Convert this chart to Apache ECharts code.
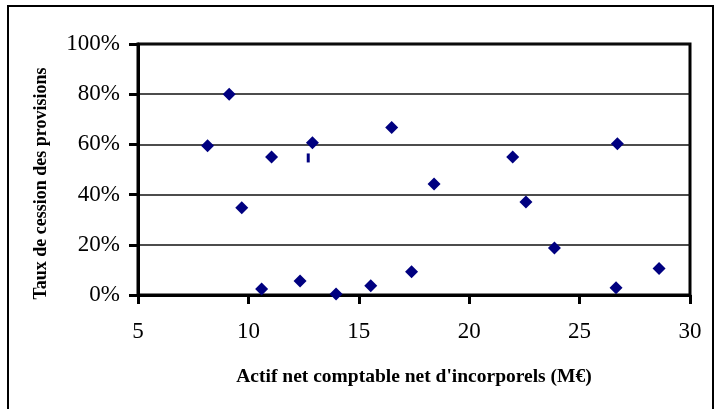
<!DOCTYPE html>
<html><head><meta charset="utf-8">
<script src="https://cdn.jsdelivr.net/npm/echarts@6/dist/echarts.min.js"></script>
<style>html,body{margin:0;padding:0;background:#fff}#c{width:714px;height:409px}</style>
</head><body><div id="c"></div>
<script>
var xValues = [8.15, 9.13, 9.7, 10.6, 11.05, 12.34, 12.9, 13.97, 15.54, 16.49, 17.39, 18.41, 21.97, 22.57, 23.86, 26.65, 26.71, 28.6];
var yValues = [0.595, 0.80, 0.348, 0.024, 0.55, 0.056, 0.607, 0.004, 0.037, 0.667, 0.093, 0.442, 0.55, 0.371, 0.187, 0.029, 0.603, 0.106];
var oddX = [12.71];
var oddY = [0.546];
var xTicks = [5, 10, 15, 20, 25, 30];
var yTicks = [0, 0.2, 0.4, 0.6, 0.8, 1.0];

var pts = xValues.map(function (x, i) { return [x, yValues[i]]; });
var odd = oddX.map(function (x, i) { return [x, oddY[i]]; });
var font = '"Liberation Serif", "Times New Roman", serif';

var chart = echarts.init(document.getElementById('c'), null, {renderer: 'canvas'});
chart.setOption({
  animation: false,
  backgroundColor: '#fff',
  graphic: [{
    type: 'rect', silent: true,
    shape: {x: 8, y: 6, width: 705, height: 420},
    style: {fill: 'none', stroke: '#000', lineWidth: 2}
  }],
  grid: {left: 138, right: 24, top: 44, bottom: 114, show: true, borderColor: '#000', borderWidth: 3, backgroundColor: 'transparent'},
  xAxis: {
    type: 'value', min: xTicks[0], max: xTicks[xTicks.length - 1], interval: 5,
    name: "Actif net comptable net d'incorporels (M€)",
    nameLocation: 'middle', nameGap: 72,
    nameTextStyle: {fontFamily: font, fontWeight: 'bold', fontSize: 19.5, color: '#000'},
    axisLine: {show: true, lineStyle: {color: '#000', width: 3}},
    axisTick: {show: true, length: 9, lineStyle: {color: '#000', width: 3}},
    axisLabel: {fontFamily: font, fontSize: 23, color: '#000', margin: 25},
    splitLine: {show: false}
  },
  yAxis: {
    type: 'value', min: yTicks[0], max: yTicks[yTicks.length - 1], interval: 0.2,
    name: 'Taux de cession des provisions',
    nameLocation: 'middle', nameGap: 88,
    nameTextStyle: {fontFamily: font, fontWeight: 'bold', fontSize: 18, color: '#000', padding: [0, 28, 0, 0]},
    axisLine: {show: true, lineStyle: {color: '#000', width: 3}},
    axisTick: {show: true, length: 9, lineStyle: {color: '#000', width: 3}},
    axisLabel: {fontFamily: font, fontSize: 23, color: '#000', margin: 18,
      formatter: function (v) { return Math.round(v * 100) + '%'; }},
    splitLine: {show: true, lineStyle: {color: '#111', width: 1.5}}
  },
  series: [{
    type: 'scatter', data: pts, symbol: 'diamond', symbolSize: 13,
    itemStyle: {color: '#000080', opacity: 1}
  }, {
    type: 'scatter', data: odd, symbol: 'rect', symbolSize: [3, 9],
    itemStyle: {color: '#000080', opacity: 1}
  }]
});
</script></body></html>
